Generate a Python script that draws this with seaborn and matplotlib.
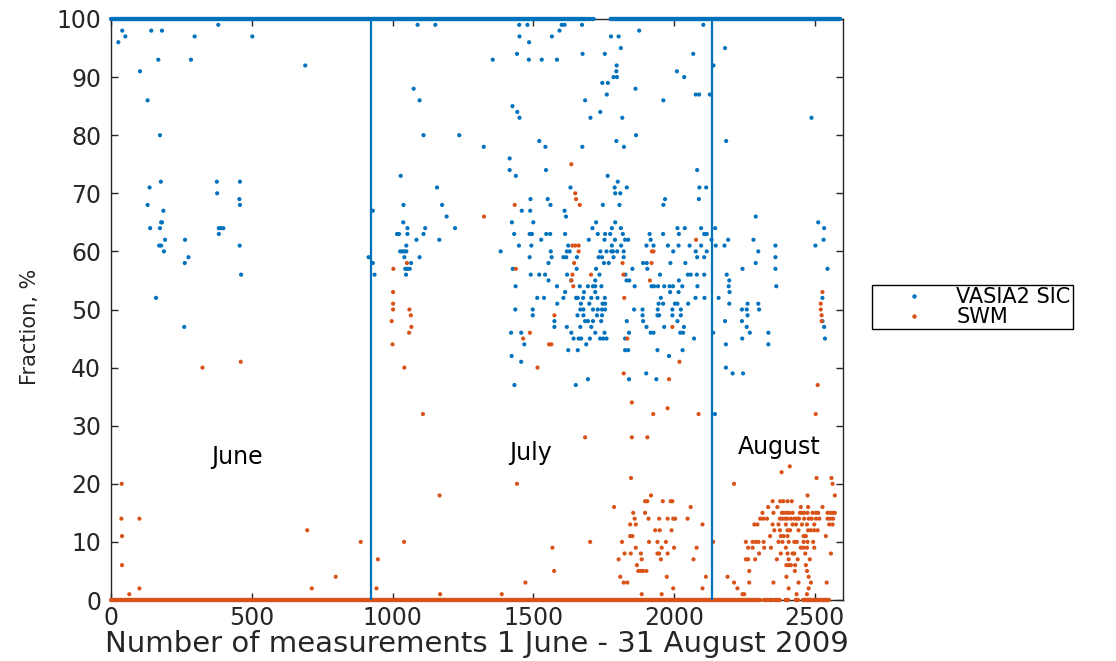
import numpy as np
import pandas as pd
import matplotlib
matplotlib.use("Agg")
import matplotlib.pyplot as plt
from matplotlib.lines import Line2D
import seaborn as sns

# ---------------- data ----------------
series_names = ["VASIA2 SIC", "SWM"]
series_colors = ["#0072BD", "#D95319"]

# runs of measurement numbers where VASIA2 SIC = 100 %
vasia_full_runs = [(0, 1690), (1696, 1702), (1708, 1714), (1775, 2590)]
# runs of measurement numbers where SWM = 0 %
swm_zero_runs = [(0, 2306), (2320, 2330), (2338, 2346), (2356, 2375),
                 (2396, 2405), (2432, 2440), (2458, 2550)]

# scattered VASIA2 SIC values (x = measurement number, y = %)
vasia_x = [
    # June
    40, 143, 181, 51, 26, 297, 381, 502, 168, 284, 103, 690, 130, 174, 177, 376, 458,
    137, 377, 456, 458, 130, 186, 178, 181, 139, 174, 383, 390, 399, 383, 192, 263,
    171, 178, 457, 188, 275, 262, 462, 160, 260, 930, 915, 930, 936,
    # July
    1089, 1152, 1450, 1479, 1601, 1611, 1673, 1593, 1451, 1566, 1776, 1803, 1485, 1811,
    1442, 1675, 1754, 1356, 1484, 1530, 1584, 1796, 1795, 1785, 1797, 1745, 1765, 1075,
    1761, 1096, 1684, 1426, 1443, 1738, 1451, 1703, 1816, 1110, 1237, 1521, 1795,
    1324, 1543, 1674, 1822, 1416, 1416, 1545, 1029, 1438, 1764, 1800, 1158, 1632, 1789,
    1791, 1809, 1490, 1551, 1039, 1176, 1561, 1747, 1806, 1459, 1489, 1611, 1192, 1616,
    1038, 1424, 1500, 1723, 1791, 1053, 1116, 1222, 1710, 1779, 1811,
    1016, 1023, 1053, 1110, 1432, 1487, 1495, 1546, 1560, 1613, 1729, 1755, 1773, 1818,
    1085, 1166, 1528, 1697, 1753, 1790, 1049, 1449, 1493, 1624, 1779, 1812,
    1027, 1035, 1042, 1049, 1384, 1562, 1619, 1629, 1738, 1760, 1777, 1783, 1798, 1821,
    1042, 1096, 1487, 1565, 1607, 1617, 1655, 1732, 1744, 1785, 1821,
    1066, 1554, 1751, 1768, 1045, 1053, 1061, 1427, 1654, 1723,
    1048, 1491, 1521, 1542, 1620, 1735, 1827, 1554, 1635, 1720,
    1437, 1584, 1665, 1694, 1712, 1720, 1742, 1613, 1680, 1720,
    1514, 1538, 1607, 1652, 1658, 1677, 1706, 1728, 1754, 1585, 1669, 1699, 1746, 1755,
    1436, 1498, 1667, 1678, 1712, 1729, 1744, 1755, 1498, 1657, 1678, 1726, 1744,
    1575, 1684, 1694, 1712, 1741, 1575, 1619, 1667, 1706, 1421, 1457, 1635, 1720, 1753,
    1643, 1661, 1670, 1701, 1737, 1748, 1760, 1826, 1468, 1688, 1624, 1658, 1826,
    1423, 1457, 1694, 1433, 1651,
    # late July / August
    2104, 1876, 2181, 2068, 2140, 2010, 2036, 1863, 2077, 2089, 2127, 1962, 2488, 1865,
    2185, 2082, 1832, 2090, 2114, 1968, 2088, 1962, 2290, 2512,
    2012, 2038, 2096, 2146, 2533, 1913, 1961, 2017, 2107, 2116,
    1826, 1837, 1917, 2133, 2192, 2282, 2531,
    1902, 1927, 1978, 2016, 2055, 2096, 2148, 2179, 2360, 2502,
    1997, 2077, 2116, 2299, 2082, 2107, 2360, 1890, 1903, 1987, 2040, 2290,
    1852, 1905, 2243, 2360, 2545, 1950, 2049, 2059, 2081, 2107, 2187,
    1831, 1841, 2017, 2196, 1860, 1920, 1929, 1943, 1965, 1984, 1996, 2029, 2083, 2194, 2363,
    1986, 2016, 2197, 1953, 2076, 2108, 2158, 2527,
    1945, 1961, 2003, 2012, 2050, 2196, 2261, 2299,
    1858, 1888, 1942, 1994, 2024, 2241, 2258, 2302, 1888, 1941, 1947, 1994, 2024, 2261,
    1832, 1890, 2012, 2181, 2241, 2527, 1902, 1965, 2035, 2258, 2533,
    1840, 1917, 1927, 2022, 2032, 2139, 2269, 2335, 2071, 2242, 2536, 2184, 2335,
    1837, 1941, 2030, 1982, 2184, 1901, 2208, 2245, 1840, 1937, 2145,
]
vasia_y = [
    # June
    98, 98, 98, 97, 96, 97, 99, 97, 93, 93, 91, 92, 86, 80, 72, 72, 72,
    71, 70, 69, 68, 68, 67, 65, 65, 64, 64, 64, 64, 64, 63, 62, 62,
    61, 61, 61, 60, 59, 58, 56, 52, 47, 67, 59, 58, 56,
    # July
    99, 99, 99, 99, 99, 99, 99, 98, 97, 97, 97, 97, 96, 95,
    94, 94, 94, 93, 93, 93, 93, 92, 91, 90, 90, 89, 89, 88,
    87, 86, 86, 85, 84, 84, 83, 83, 83, 80, 80, 79, 79,
    78, 78, 78, 78, 76, 74, 74, 73, 73, 73, 72, 71, 71, 71,
    70, 70, 69, 69, 68, 68, 68, 68, 68, 67, 67, 67, 66, 66,
    65, 65, 65, 65, 65, 64, 64, 64, 64, 64, 64,
    63, 63, 63, 63, 63, 63, 63, 63, 63, 63, 63, 63, 63, 63,
    62, 62, 62, 62, 62, 62, 61, 61, 61, 61, 61, 61,
    60, 60, 60, 60, 60, 60, 60, 60, 60, 60, 60, 60, 60, 60,
    59, 59, 59, 59, 59, 59, 59, 59, 59, 59, 59,
    58, 58, 58, 58, 57, 57, 57, 57, 57, 57,
    56, 56, 56, 56, 56, 56, 56, 55, 55, 55,
    54, 54, 54, 54, 54, 54, 54, 53, 53, 53,
    52, 52, 52, 52, 52, 52, 52, 52, 52, 51, 51, 51, 51, 51,
    50, 50, 50, 50, 50, 50, 50, 50, 49, 49, 49, 49, 49,
    48, 48, 48, 48, 48, 47, 47, 47, 47, 46, 46, 46, 46, 46,
    45, 45, 45, 45, 45, 45, 45, 45, 44, 44, 43, 43, 43,
    42, 41, 38, 37, 37,
    # late July / August
    99, 98, 95, 94, 92, 91, 90, 88, 87, 87, 87, 86, 83, 80,
    79, 74, 71, 71, 71, 69, 69, 68, 66, 65,
    64, 64, 64, 64, 64, 63, 63, 63, 63, 63,
    62, 62, 62, 62, 62, 62, 62,
    61, 61, 61, 61, 61, 61, 61, 61, 61, 61,
    60, 60, 60, 60, 59, 59, 59, 58, 58, 58, 58, 58,
    57, 57, 57, 57, 57, 56, 56, 56, 56, 56, 56,
    55, 55, 55, 55, 54, 54, 54, 54, 54, 54, 54, 54, 54, 54, 54,
    53, 53, 53, 52, 52, 52, 52, 52,
    51, 51, 51, 51, 51, 51, 51, 51,
    50, 50, 50, 50, 50, 50, 50, 50, 49, 49, 49, 49, 49, 49,
    48, 48, 48, 48, 48, 48, 47, 47, 47, 47, 47,
    46, 46, 46, 46, 46, 46, 46, 46, 45, 45, 45, 44, 44,
    43, 43, 43, 42, 40, 39, 39, 39, 38, 38, 32,
]

# scattered SWM values
swm_x = [
    # June
    325, 461, 38, 37, 101, 39, 697, 887, 39, 948, 798, 65, 101, 713, 943,
    # July
    1635, 1649, 1652, 1434, 1665, 1325, 1639, 1649, 1661, 1661, 1051, 1645, 1003, 1438,
    1639, 1705, 1635, 1642, 1002, 1002, 1002, 1060, 1065, 1575, 997, 1067, 1059, 1488,
    1464, 1000, 1556, 1564, 1042, 1515, 1821, 1108, 1684, 1442, 1167, 1787, 1041, 1702,
    1815, 1568, 1824, 1803, 1574, 1809, 1472, 1821, 1169, 1388,
    # late July / August
    2078, 1921, 1927, 1817, 1920, 1820, 1914, 1823, 2527, 2521, 2521,
    2524, 2524, 1994, 1834, 2019, 1982, 2510, 1850, 1977, 1926, 2087, 2503, 1850, 1905,
    2411, 2382, 1847, 2506, 2559, 2213, 2563, 1918, 2474, 2571,
    1897, 1905, 1960, 1988, 1994, 2350, 2377, 2388, 2403, 2418,
    2059, 2334, 2367, 2450, 2476, 2527,
    1855, 1897, 2314, 2353, 2383, 2391, 2401, 2409, 2421, 2447, 2454, 2462, 2474, 2492,
    2504, 2512, 2545, 2555, 2563, 2571,
    1860, 1909, 1947, 1977, 1997, 2004, 2048, 2306, 2317, 2330, 2376, 2385, 2395, 2403,
    2415, 2427, 2436, 2444, 2462, 2478, 2489, 2504, 2516, 2545, 2555, 2565,
    1844, 1864, 2101, 2285, 2296, 2350, 2371, 2397, 2421, 2433, 2454, 2472, 2498, 2551, 2563,
    1933, 1949, 1991, 2356, 2376, 2403, 2412, 2442, 2476, 2486, 2498, 2510,
    1844, 1852, 2341, 2379, 2389, 2403, 2460, 2468, 2539,
    1911, 1941, 1971, 2139, 2255, 2279, 2290, 2300, 2318, 2371, 2385, 2407, 2427, 2436,
    2460, 2474, 2494,
    1864, 1956, 2000, 2080, 2263, 2279, 2320, 2344, 2397, 2450, 2460, 2472, 2498,
    1846, 1882, 1941, 1947, 1977, 2302, 2379, 2403, 2421, 2427, 2466, 2557,
    1885, 1953, 2069, 2255, 2263, 2288, 2365, 2407, 2439, 2482,
    1868, 2399, 2407, 2415, 2430, 2468,
    1873, 1882, 1890, 1902, 2267, 2429, 2472,
    1974, 2113, 2190, 2399, 2478,
    1834, 2213, 2267, 2353, 2442, 2486, 2542,
    1997, 2101, 2225, 2407, 2478,
    1885, 1956, 2243, 2249, 2435, 2472,
]
swm_y = [
    # June
    40, 41, 20, 14, 14, 11, 12, 10, 6, 7, 4, 1, 2, 2, 2,
    # July
    75, 70, 69, 68, 68, 66, 61, 61, 61, 60, 58, 58, 57, 57,
    56, 56, 55, 54, 53, 51, 50, 50, 49, 49, 48, 47, 46, 46,
    45, 44, 44, 44, 40, 40, 39, 32, 28, 20, 18, 16, 10, 10,
    10, 9, 8, 7, 5, 4, 3, 3, 1, 1,
    # late July / August
    62, 60, 60, 58, 58, 56, 55, 52, 53, 51, 50,
    49, 48, 47, 45, 41, 38, 37, 34, 33, 32, 32, 32, 28, 28,
    23, 22, 21, 21, 21, 20, 20, 18, 18, 18,
    17, 17, 17, 17, 17, 17, 17, 17, 17, 17,
    16, 16, 16, 16, 16, 16,
    15, 15, 15, 15, 15, 15, 15, 15, 15, 15, 15, 15, 15, 15,
    15, 15, 15, 15, 15, 15,
    14, 14, 14, 14, 14, 14, 14, 14, 14, 14, 14, 14, 14, 14,
    14, 14, 14, 14, 14, 14, 14, 14, 14, 14, 14, 14,
    13, 13, 13, 13, 13, 13, 13, 13, 13, 13, 13, 13, 13, 13, 13,
    12, 12, 12, 12, 12, 12, 12, 12, 12, 12, 12, 12,
    11, 11, 11, 11, 11, 11, 11, 11, 11,
    10, 10, 10, 10, 10, 10, 10, 10, 10, 10, 10, 10, 10, 10,
    10, 10, 10,
    9, 9, 9, 9, 9, 9, 9, 9, 9, 9, 9, 9, 9,
    8, 8, 8, 8, 8, 8, 8, 8, 8, 8, 8, 8,
    7, 7, 7, 7, 7, 7, 7, 7, 7, 7,
    6, 6, 6, 6, 6, 6,
    5, 5, 5, 5, 5, 5, 5,
    4, 4, 4, 4, 4,
    3, 3, 3, 3, 3, 3, 3,
    2, 2, 2, 2, 2,
    1, 1, 1, 1, 1, 1,
]

month_boundaries = [923, 2133]
month_labels = ["June", "July", "August"]
month_label_x = [448, 1489, 2374]
month_label_y = [24.6, 25.3, 26.4]

x_ticks = [0, 500, 1000, 1500, 2000, 2500]
y_ticks = [0, 10, 20, 30, 40, 50, 60, 70, 80, 90, 100]

# ---------------- build table ----------------
def expand(runs):
    return np.concatenate([np.arange(a, b + 1) for a, b in runs])

full_x = expand(vasia_full_runs)
zero_x = expand(swm_zero_runs)

df = pd.concat([
    pd.DataFrame({"x": full_x, "y": 100.0, "series": series_names[0]}),
    pd.DataFrame({"x": vasia_x, "y": vasia_y, "series": series_names[0]}),
    pd.DataFrame({"x": zero_x, "y": 0.0, "series": series_names[1]}),
    pd.DataFrame({"x": swm_x, "y": swm_y, "series": series_names[1]}),
], ignore_index=True)

# ---------------- plot ----------------
sns.set_theme(style="white")
plt.rcParams["font.family"] = ["DejaVu Sans"]

fig = plt.figure(figsize=(11.16, 6.61), dpi=100)
ax = fig.add_axes([111 / 1116, 1 - 600 / 661, (843 - 111) / 1116, (600 - 19) / 661])

palette = dict(zip(series_names, series_colors))
sns.scatterplot(data=df, x="x", y="y", hue="series", palette=palette,
                s=9, linewidth=0, legend=False, ax=ax, clip_on=False, zorder=3)

for xb in month_boundaries:
    ax.axvline(xb, color=series_colors[0], lw=1.6, zorder=4)

for lab, lx, ly in zip(month_labels, month_label_x, month_label_y):
    ax.text(lx, ly, lab, ha="center", va="center", fontsize=17, color="black")

ax.set_xlim(0, 2600)
ax.set_ylim(0, 100)
ax.set_xticks(x_ticks)
ax.set_yticks(y_ticks)
ax.tick_params(axis="both", direction="in", length=5, width=1, color="#262626",
               labelsize=17, labelcolor="#262626", top=True, right=True,
               bottom=True, left=True)
ax.tick_params(axis="y", pad=7)
ax.tick_params(axis="x", pad=4)
for sp in ax.spines.values():
    sp.set_color("#262626")
    sp.set_linewidth(1.0)
    sp.set_visible(True)

ax.set_xlabel("Number of measurements 1 June - 31 August 2009", fontsize=21,
              color="#262626", labelpad=0)
ax.set_ylabel("Fraction, %", fontsize=15, color="#262626")
ax.yaxis.set_label_coords(-0.097, 0.47)

handles = [Line2D([], [], linestyle="none", marker="o", markersize=3.2,
                  markerfacecolor=c, markeredgewidth=0) for c in series_colors]
leg = fig.legend(handles, series_names, loc="upper left",
                 bbox_to_anchor=(872 / 1116, 1 - 285 / 661), borderaxespad=0,
                 fontsize=15, frameon=True, fancybox=False, framealpha=1,
                 edgecolor="black", handlelength=3.8, handletextpad=0.15,
                 labelspacing=0.0, borderpad=0.1)
leg.get_frame().set_linewidth(1.0)
for t in leg.get_texts():
    t.set_color("black")

fig.savefig("out.png", dpi=100)
